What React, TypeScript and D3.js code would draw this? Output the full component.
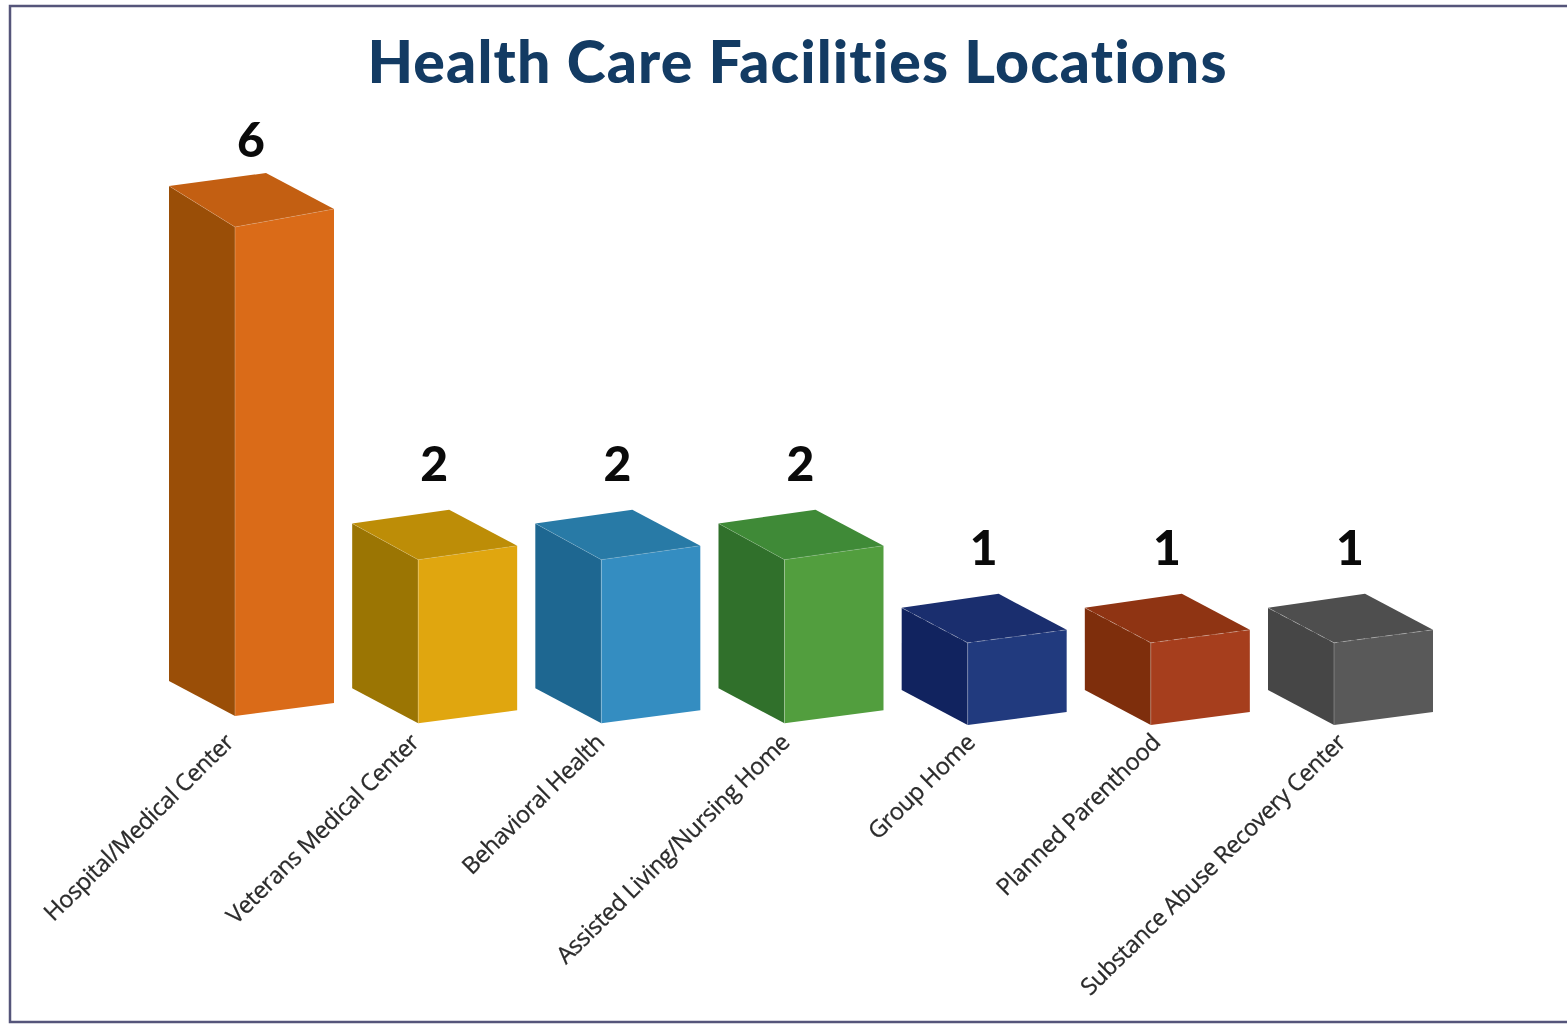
import * as d3 from 'd3';
import React from 'react';

const categories = [
  'Hospital/Medical Center',
  'Veterans Medical Center',
  'Behavioral Health',
  'Assisted Living/Nursing Home',
  'Group Home',
  'Planned Parenthood',
  'Substance Abuse Recovery Center',
];
const values = [6, 2, 2, 2, 1, 1, 1];
const frontColors = ['#da6b18', '#e0a60f', '#348dc1', '#529e3e', '#213a7e', '#a63e1d', '#595959'];
const sideColors = ['#9a4e07', '#9b7503', '#1e6791', '#30702b', '#11235f', '#7e2e0c', '#464646'];
const topColors = ['#c35f12', '#bd8d07', '#287aa6', '#3f8a37', '#1a2e6e', '#8f3413', '#4e4e4e'];

const W = 1567;
const H = 1024;

// front corner of each box
const x = d3.scalePoint<string>().domain(categories).range([235, 1334]);
// labels drift a little to the right of the boxes
const labelX = d3.scalePoint<string>().domain(categories).range([235, 1347]);
const y = d3.scaleLinear().domain([0, 6]).range([726, 227]);

// the fake perspective: taller boxes show more of their top, and sit a bit higher
const baseY = d3.scaleLinear().domain([1, 6]).range([725, 716]);
const topLeft = d3.scaleLinear().domain([1, 6]).range([-35, -41]);
const topRight = d3.scaleLinear().domain([1, 6]).range([-13, -18]);
const topBack = d3.scaleLinear().domain([1, 6]).range([-49, -54]);

const sideW = 66;
const frontW = 99;
const backX = 31;

const poly = d3.line().curve(d3.curveLinearClosed);

function Box({ name, value, i }: { name: string; value: number; i: number }) {
  const cx = x(name) as number;
  const top = y(value);
  const bottom = baseY(value);
  const left = cx - sideW;
  const right = cx + frontW;
  const tl = top + topLeft(value);
  const tr = top + topRight(value);
  const tb = top + topBack(value);

  return (
    <g>
      <path d={poly([[left, tl], [cx, top], [cx, bottom], [left, bottom - 35]]) as string} fill={sideColors[i]} />
      <path d={poly([[cx, top], [right, tr], [right, bottom - 13], [cx, bottom]]) as string} fill={frontColors[i]} />
      <path d={poly([[left, tl], [cx + backX, tb], [right, tr], [cx, top]]) as string} fill={topColors[i]} />
      <path
        d={d3.line()([[left, tl], [cx, top], [right, tr]]) as string}
        fill="none"
        stroke="#fff"
        strokeOpacity={value > 1 ? 0.15 : 0.3}
        strokeDasharray={value > 1 ? undefined : '8 6'}
      />
      <path d={d3.line()([[cx, top], [cx, bottom]]) as string} stroke="#fff" strokeOpacity={0.25} />
      <text
        x={cx + 16}
        y={tb - (value > 2 ? 16 : 29)}
        textAnchor="middle"
        fontFamily="Lato"
        fontWeight={900}
        fontSize={48}
        fill="#0a0a0a"
      >
        {value}
      </text>
    </g>
  );
}

export default function App() {
  return (
    <svg
      width={W}
      height={H}
      style={{ position: 'absolute', left: 0, top: 0, filter: 'blur(0.6px)' }}
    >
      <rect width={W} height={H} fill="#fff" />
      <path
        d={d3.line()([[W, 6], [10, 6], [10, 1022], [W, 1022]]) as string}
        fill="none"
        stroke="#55557a"
        strokeWidth={2.5}
      />
      <text
        x={797}
        y={83}
        textAnchor="middle"
        fontFamily="Lato"
        fontWeight={900}
        fontSize={59}
        textLength={859}
        style={{ fontVariantLigatures: 'none' }}
        fill="#133b63"
      >
        Health Care Facilities Locations
      </text>
      {categories.map((c, i) => (
        <Box key={c} name={c} value={values[i]} i={i} />
      ))}
      {categories.map((c) => (
        <text
          key={c}
          transform={`translate(${labelX(c)},744) rotate(-44.5)`}
          textAnchor="end"
          fontFamily="Open Sans"
          fontSize={23.5}
          letterSpacing={-0.4}
          stroke="#2b2b2b"
          strokeWidth={0.3}
          fill="#2b2b2b"
        >
          {c}
        </text>
      ))}
    </svg>
  );
}
